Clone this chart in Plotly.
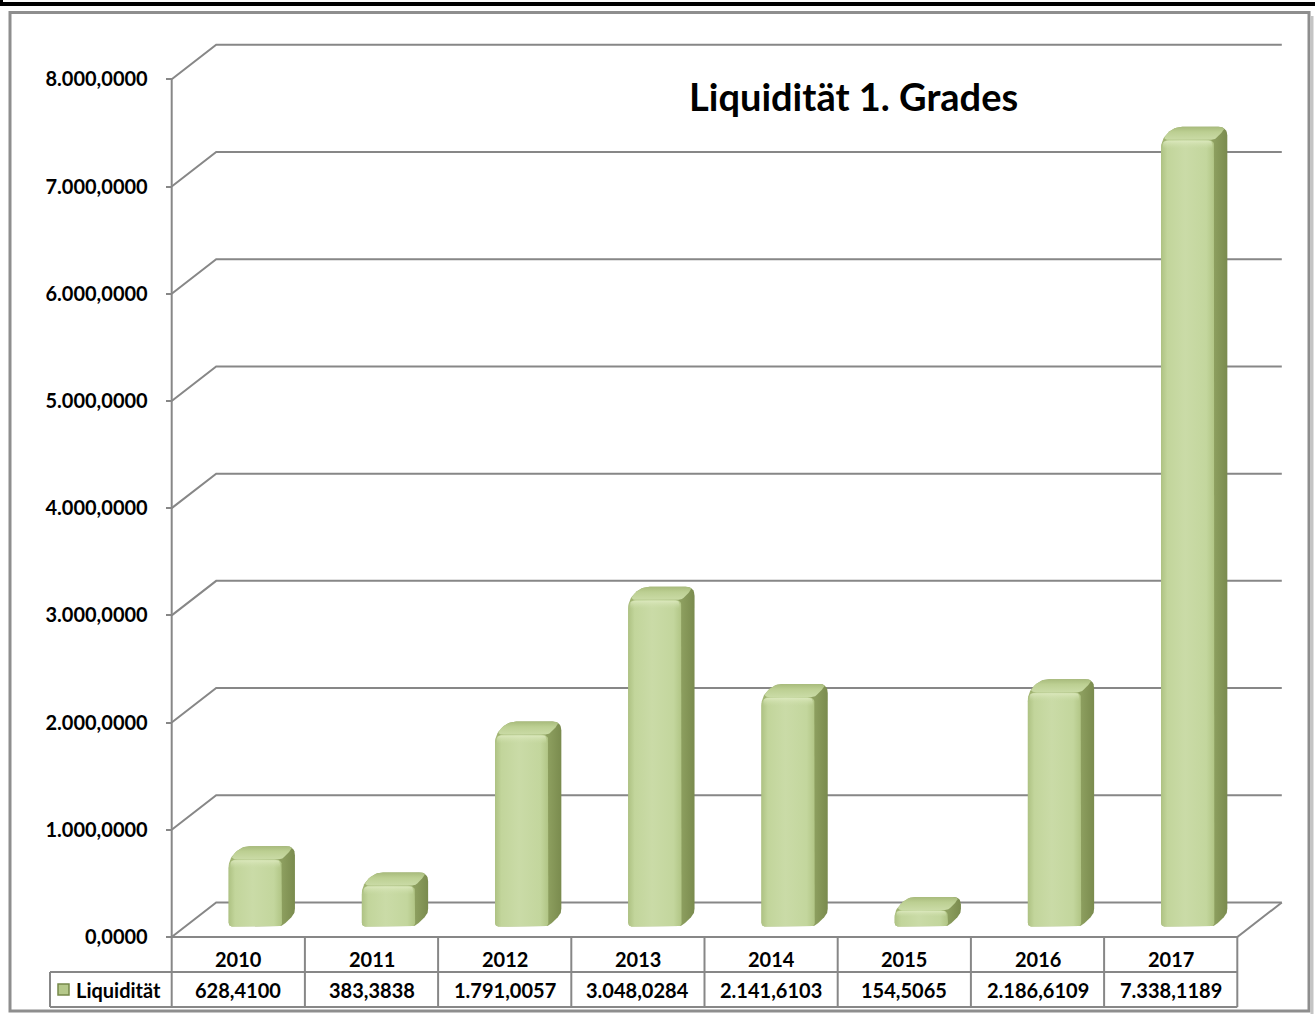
import numpy as np
import plotly.graph_objects as go

# ---------------- data ----------------
years = ["2010", "2011", "2012", "2013", "2014", "2015", "2016", "2017"]
liquiditaet = [628.4100, 383.3838, 1791.0057, 3048.0284, 2141.6103, 154.5065, 2186.6109, 7338.1189]
y_ticks = [0, 1000, 2000, 3000, 4000, 5000, 6000, 7000, 8000]
series_name = "Liquidität"
chart_title = "Liquidität 1. Grades"


def de_fmt(v):
    s = f"{v:,.4f}"
    return s.replace(",", "#").replace(".", ",").replace("#", ".")


value_labels = [de_fmt(v) for v in liquiditaet]

# ---------------- geometry (pixel calibration of the axes) ----------------
W, H = 1315, 1014
X0PX, KX = 171.7, 133.2          # front-left of axis, px per category
Y0PX, KY = 937.0, 857.7 / 8000.0  # px of value 0, px per unit
DXP, DYP = 44.5, 34.5             # wall depth in px
DX, DY = DXP / KX, DYP / KY
N = len(years)
FONT = "Lato, 'Open Sans', sans-serif"
GRID = "#878787"


def px2x(px):
    return (px - X0PX) / KX


def py2y(py):
    return (Y0PX - py) / KY


def rounded(pts, radii, n=9):
    P = np.array([[x * KX, y * KY] for x, y in pts], dtype=float)
    out = []
    m = len(P)
    for i in range(m):
        p0, p1, p2 = P[i - 1], P[i], P[(i + 1) % m]
        r = radii[i]
        a = p0 - p1
        b = p2 - p1
        la, lb = np.hypot(*a), np.hypot(*b)
        if r <= 0 or la == 0 or lb == 0:
            out.append(p1)
            continue
        r = min(r, 0.45 * la, 0.45 * lb)
        s = p1 + a / la * r
        e = p1 + b / lb * r
        for t in np.linspace(0, 1, n):
            out.append((1 - t) ** 2 * s + 2 * (1 - t) * t * p1 + t ** 2 * e)
    out.append(out[0])
    arr = np.array(out)
    return list(arr[:, 0] / KX), list(arr[:, 1] / KY)


def face(xs, ys, gtype, cscale):
    return go.Scatter(x=xs, y=ys, mode="lines", fill="toself",
                      line=dict(width=0, color="rgba(0,0,0,0)"),
                      fillgradient=dict(type=gtype, colorscale=cscale),
                      hoverinfo="skip", showlegend=False)


fig = go.Figure()

# walls: gridlines with side-wall diagonals, floor and front axis line
gx, gy = [], []
for t in y_ticks:
    gx += [0, DX, N + DX, None]
    gy += [t, t + DY, t + DY, None]
gx += [0, N, N + DX, None, 0, 0]
gy += [0, 0, DY, None, 0, y_ticks[-1]]
fig.add_trace(go.Scatter(x=gx, y=gy, mode="lines", line=dict(color=GRID, width=2),
                         hoverinfo="skip", showlegend=False))

# bars (pseudo-3D rounded columns)
BW = 0.4
SHIFT_X = 17.0 / KX
BASE_Y = 10.4 / KY
BDX, BDY = 13.0 / KX, 13.0 / KY
PXX, PXY = 1.0 / KX, 1.0 / KY

for i, v in enumerate(liquiditaet):
    xc = i + 0.5 + SHIFT_X
    xl, xr = xc - BW / 2, xc + BW / 2
    yb, yt = BASE_Y, BASE_Y + v
    A, B = (xl, yb), (xr, yb)
    C = (xr + BDX, yb + BDY)
    D = (xr + BDX, yt + BDY)
    E = (xl + BDX, yt + BDY)
    F = (xl, yt)
    G = (xr, yt)
    # silhouette / side face
    sx, sy = rounded([A, B, C, D, E, F], [4, 5, 5, 9, 9, 9])
    fig.add_trace(face(sx, sy, "horizontal",
                       [[0, "#a2b573"], [0.8, "#8d9f5f"], [1, "#7a8b4e"]]))
    # top face
    tx, ty = rounded([F, G, D, E], [9, 3, 9, 9])
    fig.add_trace(face(tx, ty, "vertical",
                       [[0, "#cadba6"], [0.6, "#bccf92"], [1, "#a8bb7c"]]))
    # front face
    fx, fy = rounded([A, B, G, F], [4, 4, 7, 9])
    fig.add_trace(face(fx, fy, "horizontal",
                       [[0, "#aec283"], [0.12, "#c2d59b"], [0.45, "#cadba7"],
                        [0.85, "#c3d69d"], [1, "#b1c585"]]))
    # bevel highlight along the top edge of the front face
    hh = min(9 * PXY, v * 0.4)
    hx, hy = rounded([(xl + 2 * PXX, yt - hh), (xr - 2 * PXX, yt - hh),
                      (xr - 2 * PXX, yt - PXY), (xl + 2 * PXX, yt - PXY)], [0, 0, 5, 7])
    fig.add_trace(face(hx, hy, "vertical",
                       [[0, "rgba(205,222,170,0)"], [1, "rgba(222,234,192,0.85)"]]))

shapes = []
# data table lines
LCOL = px2x(50)
ROW1, ROW2 = py2y(972), py2y(1007)
for yy in (ROW1, ROW2):
    shapes.append(dict(type="line", xref="x", yref="y", x0=LCOL, x1=N, y0=yy, y1=yy,
                       line=dict(color=GRID, width=2)))
for k in range(N + 1):
    shapes.append(dict(type="line", xref="x", yref="y", x0=k, x1=k, y0=0, y1=ROW2,
                       line=dict(color=GRID, width=2)))
shapes.append(dict(type="line", xref="x", yref="y", x0=LCOL, x1=LCOL, y0=ROW1, y1=ROW2,
                   line=dict(color=GRID, width=2)))
# legend key in table
shapes.append(dict(type="rect", xref="x", yref="y", x0=px2x(58), x1=px2x(69),
                   y0=py2y(995), y1=py2y(984), fillcolor="#b5c88a",
                   line=dict(color="#76884a", width=1.5)))

# outer frames
shapes.append(dict(type="rect", xref="paper", yref="paper", x0=10 / W, x1=1309 / W,
                   y0=1 - 1011 / H, y1=1 - 12.5 / H, line=dict(color="#8e8e8e", width=3)))
shapes.append(dict(type="line", xref="paper", yref="paper", x0=1312 / W, x1=1312 / W,
                   y0=1 - 1014 / H, y1=1 - 16 / H, line=dict(color="#c4c4c4", width=3)))
shapes.append(dict(type="line", xref="paper", yref="paper", x0=0, x1=1, y0=1 - 4 / H, y1=1 - 4 / H,
                   line=dict(color="black", width=4)))
shapes.append(dict(type="line", xref="paper", yref="paper", x0=1.5 / W, x1=1.5 / W, y0=1 - 5 / H, y1=1,
                   line=dict(color="black", width=3)))

annotations = []
for k, (yr, val) in enumerate(zip(years, value_labels)):
    annotations.append(dict(x=k + 0.5, y=py2y(959), xref="x", yref="y", text=yr, showarrow=False,
                            xanchor="center", yanchor="middle",
                            font=dict(family=FONT, size=20, color="black", weight="bold")))
    annotations.append(dict(x=k + 0.5, y=py2y(989.5), xref="x", yref="y", text=val, showarrow=False,
                            xanchor="center", yanchor="middle",
                            font=dict(family=FONT, size=20, color="black", weight="bold")))
annotations.append(dict(x=px2x(74), y=py2y(989.5), xref="x", yref="y", text=series_name,
                        xanchor="left", yanchor="middle", showarrow=False,
                        font=dict(family=FONT, size=20, color="black", weight="bold")))
annotations.append(dict(x=853 / W, y=1 - 96 / H, xref="paper", yref="paper", text=chart_title,
                        xanchor="center", yanchor="middle", showarrow=False,
                        font=dict(family=FONT, size=38, color="black", weight="bold")))

fig.update_layout(
    width=W, height=H,
    margin=dict(l=0, r=0, t=0, b=0, autoexpand=False),
    paper_bgcolor="white", plot_bgcolor="white",
    showlegend=False,
    separators=",.",
    shapes=shapes,
    annotations=annotations,
    xaxis=dict(visible=False, range=[-X0PX / KX, (W - X0PX) / KX], fixedrange=True),
    yaxis=dict(range=[-(H - Y0PX) / KY, Y0PX / KY], tickvals=y_ticks, tickformat=",.4f",
               anchor="free", position=X0PX / W, side="left", automargin=False,
               showgrid=False, zeroline=False, showline=False,
               ticks="outside", ticklen=6, tickwidth=2, tickcolor=GRID, ticklabelstandoff=14,
               tickfont=dict(family=FONT, size=20, color="black", weight="bold"), fixedrange=True),
)

fig.write_html("out.html",
               config={"displayModeBar": False, "staticPlot": True},
               post_script="document.body.style.margin='0px';document.body.style.padding='0px';"
                           "document.body.style.overflow='hidden';")
